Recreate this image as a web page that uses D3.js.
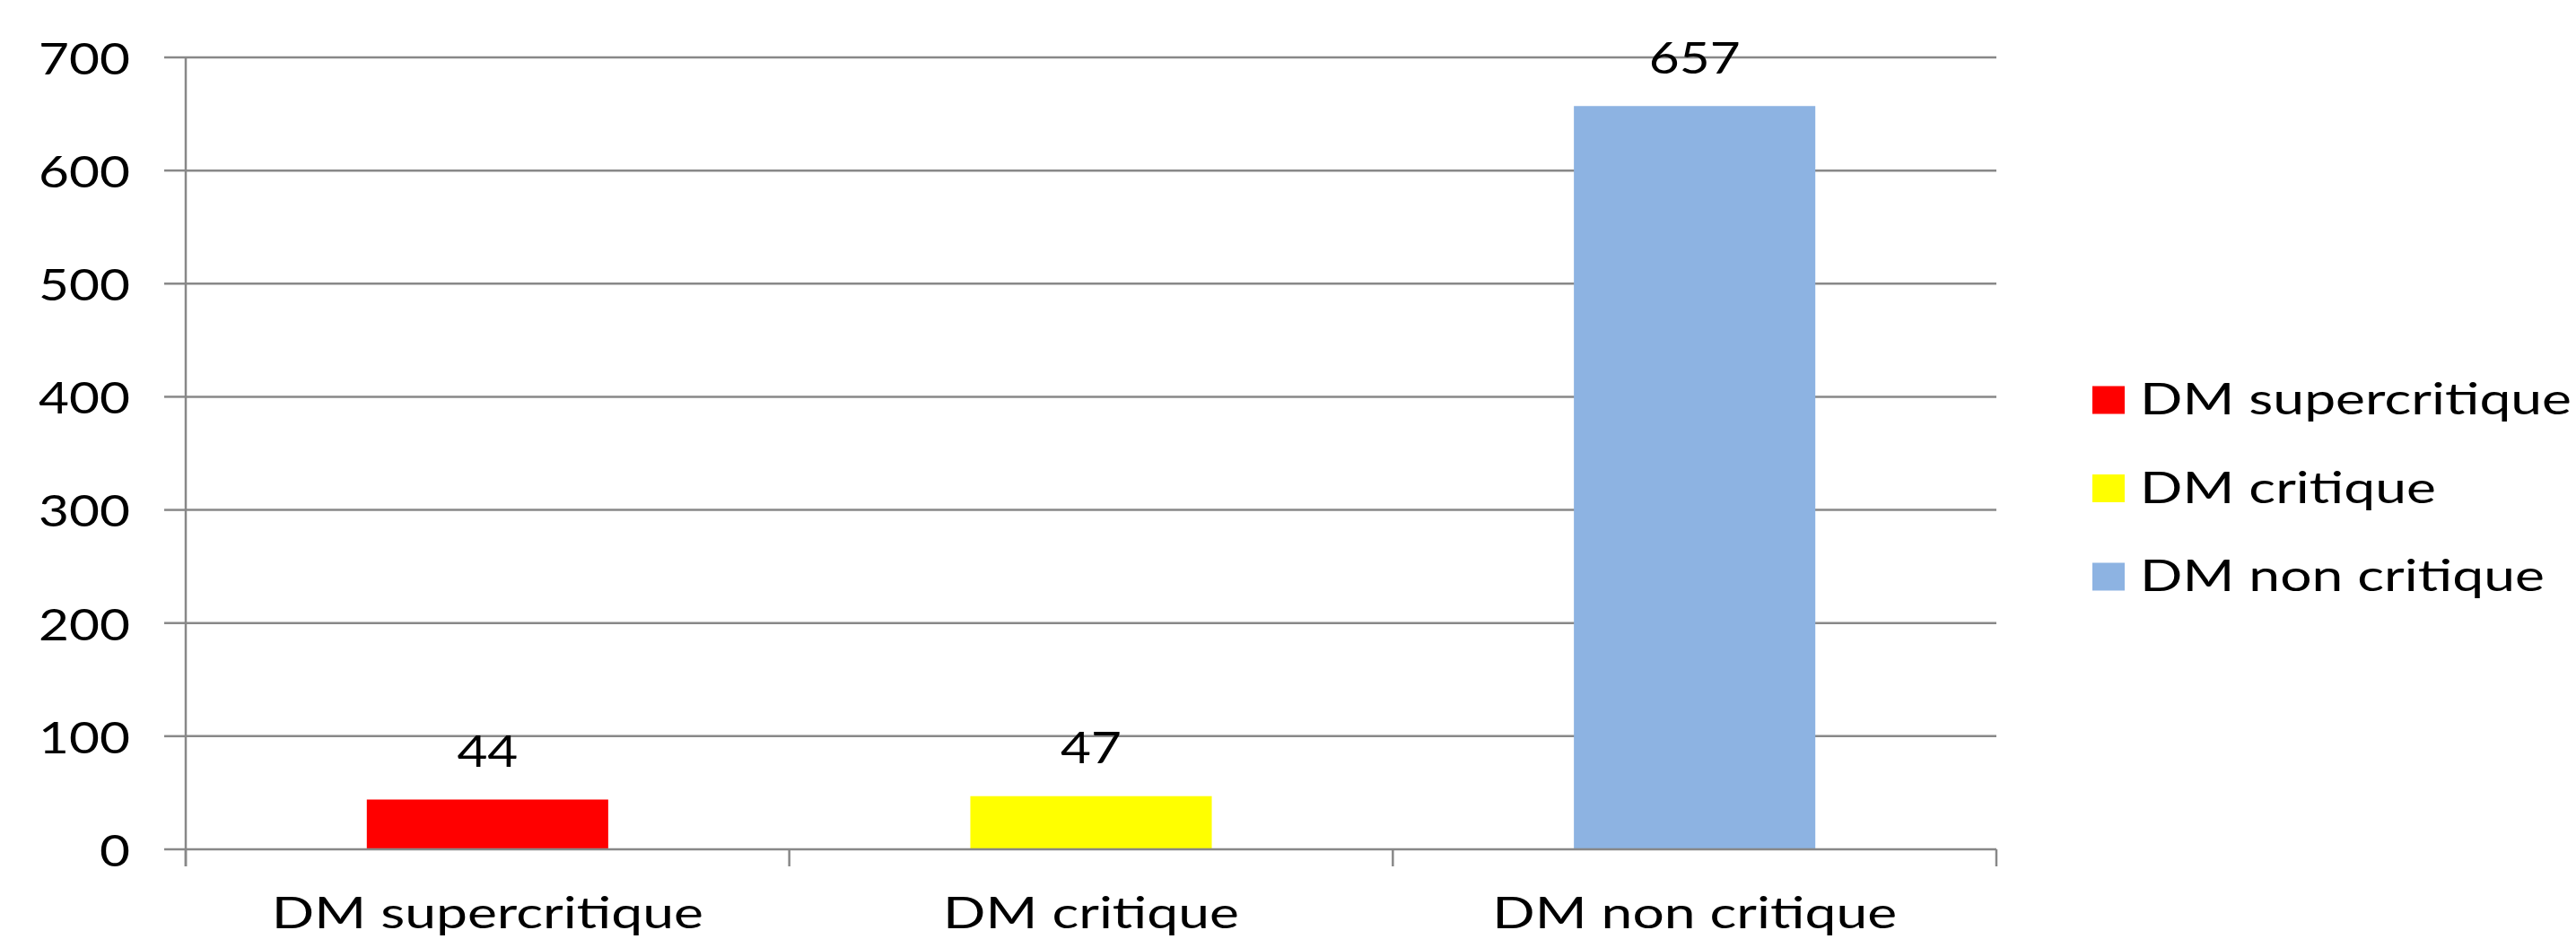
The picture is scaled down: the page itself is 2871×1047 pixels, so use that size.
<!DOCTYPE html>
<html>
<head>
<meta charset="utf-8">
<script src="https://cdn.jsdelivr.net/npm/d3@7"></script>
<style>
  html, body { margin: 0; padding: 0; background: #ffffff; }
  svg text { font-family: Lato, "Open Sans", sans-serif; fill: #000; }
</style>
</head>
<body>
<svg id="chart" width="2871" height="1047"></svg>
<script>
// ---- data ----
const categories = ["DM supercritique", "DM critique", "DM non critique"];
const values = [44, 47, 657];
const colors = ["#FF0000", "#FFFF00", "#8DB3E2"];
const yTicks = [0, 100, 200, 300, 400, 500, 600, 700];

// ---- layout ----
const plot = { left: 207, right: 2225, top: 64, bottom: 947 };
const FS = 48;        // font size
const SX_NUM = 1.22;  // horizontal stretch for numbers
const SX_TXT = 1.30;  // horizontal stretch for words
const gridColor = "#888888";

const svg = d3.select("#chart");

const x = d3.scaleBand().domain(categories)
  .range([plot.left, plot.right]).paddingInner(0.6).paddingOuter(0.3);
const y = d3.scaleLinear().domain([0, 700]).range([plot.bottom, plot.top]);

// gridlines
svg.append("g").selectAll("line").data(yTicks.filter(t => t > 0)).join("line")
  .attr("x1", plot.left).attr("x2", plot.right)
  .attr("y1", d => y(d)).attr("y2", d => y(d))
  .attr("stroke", gridColor).attr("stroke-width", 2.5);

// bars
svg.append("g").selectAll("rect").data(values).join("rect")
  .attr("x", (d, i) => x(categories[i]))
  .attr("width", x.bandwidth())
  .attr("y", d => y(d))
  .attr("height", d => y(0) - y(d))
  .attr("fill", (d, i) => colors[i]);

// y axis line + ticks
svg.append("line").attr("x1", plot.left).attr("x2", plot.left)
  .attr("y1", plot.top).attr("y2", plot.bottom + 19)
  .attr("stroke", gridColor).attr("stroke-width", 2.5);
svg.append("g").selectAll("line").data(yTicks).join("line")
  .attr("x1", plot.left - 24).attr("x2", plot.left)
  .attr("y1", d => y(d)).attr("y2", d => y(d))
  .attr("stroke", gridColor).attr("stroke-width", 2.5);
svg.append("g").selectAll("text").data(yTicks).join("text")
  .attr("transform", d => `translate(${plot.left - 62},${y(d)}) scale(${SX_NUM},1)`)
  .attr("text-anchor", "end").attr("dominant-baseline", "central")
  .attr("font-size", FS).text(d => d);

// x axis line + ticks at band boundaries
svg.append("line").attr("x1", plot.left).attr("x2", plot.right)
  .attr("y1", plot.bottom).attr("y2", plot.bottom)
  .attr("stroke", gridColor).attr("stroke-width", 2.5);
const bounds = categories.map(c => x(c) - x.step() * x.paddingInner() / 2);
bounds.push(plot.right);
bounds[0] = plot.left;
svg.append("g").selectAll("line").data(bounds).join("line")
  .attr("x1", d => d).attr("x2", d => d)
  .attr("y1", plot.bottom).attr("y2", plot.bottom + 19)
  .attr("stroke", gridColor).attr("stroke-width", 2.5);

// category labels
svg.append("g").selectAll("text").data(categories).join("text")
  .attr("transform", d => `translate(${x(d) + x.bandwidth() / 2},${plot.bottom + 88}) scale(${SX_TXT},1)`)
  .attr("text-anchor", "middle").attr("font-size", FS).text(d => d);

// data labels
svg.append("g").selectAll("text").data(values).join("text")
  .attr("transform", (d, i) => `translate(${x(categories[i]) + x.bandwidth() / 2},${y(d) - 36.5}) scale(${SX_NUM},1)`)
  .attr("text-anchor", "middle").attr("font-size", FS).text(d => d);

// legend
const lg = svg.append("g").attr("transform", "translate(2332,446)");
const rows = lg.selectAll("g").data(categories).join("g")
  .attr("transform", (d, i) => `translate(0,${i * 98.5})`);
rows.append("rect").attr("x", 0).attr("y", -15.5).attr("width", 36).attr("height", 31)
  .attr("fill", (d, i) => colors[i]);
rows.append("text")
  .attr("transform", `translate(53,16) scale(${SX_TXT},1)`)
  .attr("font-size", FS).text(d => d);
</script>
</body>
</html>
